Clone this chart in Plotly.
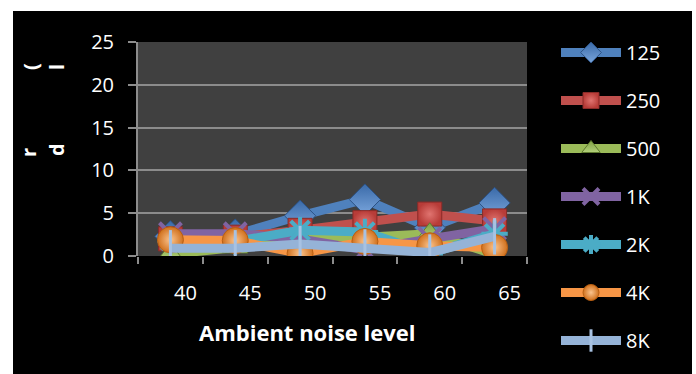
import plotly.graph_objects as go

# Ambient noise level categories (dB)
noise_levels = ["40", "45", "50", "55", "60", "65"]

# Threshold shift per test frequency
f125 = [2.3, 2.5, 4.7, 6.6, 3.3, 6.2]
f250 = [2.0, 2.2, 3.0, 3.9, 4.9, 4.1]
f500 = [0.2, 1.0, 2.3, 2.2, 2.6, 0.2]
f1k = [2.6, 2.6, 2.0, 0.7, 2.0, 3.2]
f2k = [1.8, 1.7, 3.0, 2.8, 0.3, 2.6]
f4k = [1.9, 1.8, 0.3, 1.7, 1.2, 1.0]
f8k = [0.9, 0.9, 1.4, 1.0, 0.4, 2.3]

y_ticks = [0, 5, 10, 15, 20, 25]

series = [
    ("125", f125, "#4F81BD", dict(symbol="diamond", size=24, color="#3a6aa8",
                                   gradient=dict(type="vertical", color="#7aa6dd"),
                                   line=dict(color="#2c5285", width=1))),
    ("250", f250, "#C0504D", dict(symbol="square", size=24, color="#b83c38",
                                   gradient=dict(type="radial", color="#e07470"),
                                   line=dict(color="#8a2b28", width=1))),
    ("500", f500, "#9BBB59", dict(symbol="triangle-up", size=22, color="#7fa043",
                                   gradient=dict(type="vertical", color="#b3d17a"),
                                   line=dict(color="#5e7a2e", width=1))),
    ("1K", f1k, "#8064A2", dict(symbol="x-thin", size=22, color="#8064A2",
                                 line=dict(color="#8064A2", width=4))),
    ("2K", f2k, "#4BACC6", dict(symbol="asterisk", size=22, color="#4BACC6",
                                 line=dict(color="#4BACC6", width=4))),
    ("4K", f4k, "#F79646", dict(symbol="circle", size=26, color="#d0701c",
                                 gradient=dict(type="radial", color="#fbc48e"),
                                 line=dict(color="#b85f12", width=1))),
    ("8K", f8k, "#95B3D7", dict(symbol="line-ns", size=26, color="#a8c2e2",
                                 line=dict(color="#a8c2e2", width=3))),
]

fig = go.Figure()
for name, vals, col, mk in series:
    fig.add_trace(go.Scatter(
        x=noise_levels, y=vals, name=name, mode="lines+markers",
        line=dict(color=col, width=9),
        marker=mk, legendgroup=name,
    ))

# Outer black frame and dark plot surface
fig.add_shape(type="rect", xref="paper", yref="paper",
              x0=(13 - 138) / 389, x1=(692 - 138) / 389,
              y0=(256 - 374) / 214, y1=(256 - 11) / 214,
              fillcolor="black", line_width=0, layer="below")
fig.add_shape(type="rect", xref="paper", yref="paper",
              x0=0, x1=1, y0=0, y1=1,
              fillcolor="#404040", line_width=0, layer="below")

font_family = "Open Sans"

# Axis title under the categories
fig.add_annotation(text="<b>Ambient noise level</b>", xref="paper", yref="paper",
                   x=(307 - 138) / 389, y=(256 - 332) / 214,
                   xanchor="center", yanchor="middle",
                   showarrow=False, font=dict(color="white", size=22, family=font_family))

# Clipped fragments of the vertical axis title
for ch, px, py in [("(", 30, 66), ("l", 57, 67), ("r", 28, 152), ("d", 56, 150)]:
    fig.add_annotation(text="<b>" + ch + "</b>", xref="paper", yref="paper",
                       x=(px - 138) / 389, y=(256 - py) / 214,
                       xanchor="center", yanchor="middle",
                       showarrow=False, textangle=-90,
                       font=dict(color="white", size=20, family=font_family))

fig.update_layout(
    width=696, height=374,
    margin=dict(l=138, r=169, t=42, b=118, pad=0, autoexpand=False),
    paper_bgcolor="white",
    plot_bgcolor="rgba(0,0,0,0)",
    font=dict(family=font_family, color="white", size=20),
    showlegend=True,
    legend=dict(
        x=(556 - 138) / 389, xanchor="left",
        y=1 + (42 - 33) / 214, yanchor="top",
        maxheight=360,
        bgcolor="rgba(0,0,0,0)",
        font=dict(size=20, color="white", family=font_family),
        itemwidth=60, tracegroupgap=19,
    ),
    xaxis=dict(
        type="category", tickson="boundaries",
        ticks="outside", ticklen=7, tickcolor="#8c8c8c", tickwidth=2,
        showgrid=False, showline=False, zeroline=False,
        ticklabelshift=15, ticklabelstandoff=23,
        tickfont=dict(size=20, color="white", family=font_family),
        range=[-0.5, 5.5],
    ),
    yaxis=dict(
        range=[0, 25], tickvals=y_ticks,
        ticks="outside", ticklen=8, tickcolor="#8c8c8c", tickwidth=2,
        showgrid=True, gridcolor="#8c8c8c", gridwidth=2,
        showline=True, linecolor="#8c8c8c", linewidth=2,
        zeroline=False, ticklabelstandoff=10,
        tickfont=dict(size=20, color="white", family=font_family),
    ),
)

fig.write_html("out.html")
